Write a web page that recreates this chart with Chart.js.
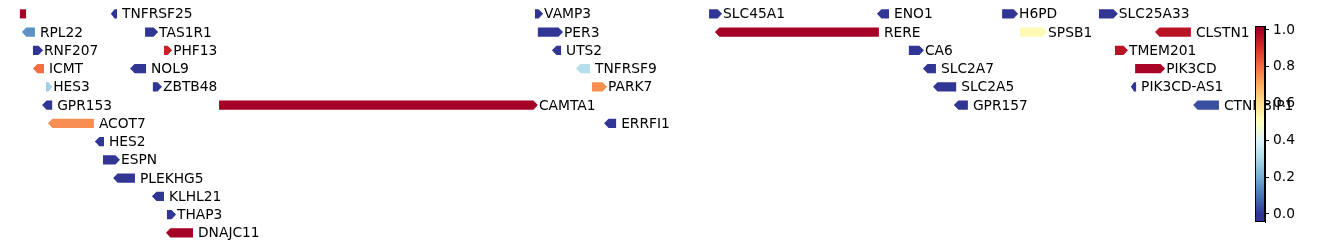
<!DOCTYPE html>
<html>
<head>
<meta charset="utf-8">
<script src="https://cdn.jsdelivr.net/npm/chart.js@4"></script>
<style>
  html, body { margin: 0; padding: 0; background: #fff; }
  #wrap { position: relative; width: 1338px; height: 246px; }
  #genes { position: absolute; left: 0; top: 0; }
  #cbar { position: absolute; left: 1230px; top: 0; }
</style>
</head>
<body>
<div id="wrap">
  <canvas id="genes" width="1338" height="246"></canvas>
  <canvas id="cbar" width="108" height="246"></canvas>
</div>
<script>
// gene track data (positions in Mb)
const geneNames = ['', 'TNFRSF25', 'VAMP3', 'SLC45A1', 'ENO1', 'H6PD', 'SLC25A33',
  'RPL22', 'TAS1R1', 'PER3', 'RERE', 'SPSB1', 'CLSTN1',
  'RNF207', 'PHF13', 'UTS2', 'CA6', 'TMEM201',
  'ICMT', 'NOL9', 'TNFRSF9', 'SLC2A7', 'PIK3CD',
  'HES3', 'ZBTB48', 'PARK7', 'SLC2A5', 'PIK3CD-AS1',
  'GPR153', 'CAMTA1', 'GPR157', 'CTNNBIP1',
  'ACOT7', 'ERRFI1', 'HES2', 'ESPN', 'PLEKHG5', 'KLHL21', 'THAP3', 'DNAJC11'];
const geneStart = [6.174, 6.453, 7.754, 8.288, 8.803, 9.187, 9.484,
  6.180, 6.558, 7.763, 8.306, 9.242, 9.656,
  6.214, 6.616, 7.806, 8.901, 9.533,
  6.214, 6.512, 7.880, 8.944, 9.595,
  6.254, 6.582, 7.929, 8.975, 9.582,
  6.242, 6.785, 9.039, 9.773,
  6.260, 7.966, 6.404, 6.429, 6.460, 6.579, 6.625, 6.622];
const geneEnd = [6.193, 6.472, 7.779, 8.328, 8.840, 9.236, 9.542,
  6.220, 6.598, 7.840, 8.809, 9.325, 9.766,
  6.245, 6.641, 7.834, 8.947, 9.573,
  6.248, 6.561, 7.923, 8.984, 9.687,
  6.273, 6.610, 7.975, 9.046, 9.598,
  6.273, 7.763, 9.082, 9.852,
  6.401, 8.003, 6.432, 6.481, 6.527, 6.616, 6.653, 6.705];
const geneStrand = ['.', '-', '+', '+', '-', '+', '+',
  '-', '+', '+', '-', '+', '-',
  '+', '+', '-', '+', '+',
  '-', '-', '-', '-', '+',
  '+', '+', '+', '-', '-',
  '-', '+', '-', '-',
  '-', '-', '-', '+', '-', '-', '+', '-'];
const geneRow = [0, 0, 0, 0, 0, 0, 0,
  1, 1, 1, 1, 1, 1,
  2, 2, 2, 2, 2,
  3, 3, 3, 3, 3,
  4, 4, 4, 4, 4,
  5, 5, 5, 5,
  6, 6, 7, 8, 9, 10, 11, 12];
const geneValue = [1.0, 0.0, 0.0, 0.0, 0.0, 0.0, 0.0,
  0.15, 0.0, 0.0, 1.0, 0.52, 0.96,
  0.0, 0.93, 0.0, 0.0, 0.96,
  0.8, 0.0, 0.32, 0.0, 0.99,
  0.28, 0.0, 0.75, 0.0, 0.0,
  0.0, 1.0, 0.0, 0.04,
  0.75, 0.0, 0.0, 0.0, 0.0, 0.0, 0.0, 1.0];

// colorbar ticks
const cbTicks = [0.0, 0.2, 0.4, 0.6, 0.8, 1.0];

// RdYlBu reversed
const cmap = ['#313695', '#4575b4', '#74add1', '#abd9e9', '#e0f3f8', '#ffffbf',
  '#fee090', '#fdae61', '#f46d43', '#d73027', '#a50026'];

function hexToRgb(h) {
  return [parseInt(h.slice(1, 3), 16), parseInt(h.slice(3, 5), 16), parseInt(h.slice(5, 7), 16)];
}
function colorAt(v) {
  v = Math.max(0, Math.min(1, v));
  const p = v * (cmap.length - 1);
  const i = Math.min(Math.floor(p), cmap.length - 2);
  const f = p - i;
  const a = hexToRgb(cmap[i]), b = hexToRgb(cmap[i + 1]);
  const c = a.map((x, k) => Math.round(x + (b[k] - x) * f));
  return 'rgb(' + c.join(',') + ')';
}

const labelFont = '13.8px "DejaVu Sans"';

// draws the gene arrows and their names
const geneTrack = {
  id: 'geneTrack',
  afterDatasetsDraw(chart) {
    const ctx = chart.ctx;
    const xs = chart.scales.x, ys = chart.scales.y;
    ctx.save();
    ctx.font = labelFont;
    ctx.textBaseline = 'middle';
    ctx.textAlign = 'left';
    for (let i = 0; i < geneNames.length; i++) {
      const x0 = xs.getPixelForValue(geneStart[i]);
      const x1 = xs.getPixelForValue(geneEnd[i]);
      const yc = ys.getPixelForValue(geneRow[i]);
      const h = Math.abs(ys.getPixelForValue(geneRow[i] + 0.25) - yc);
      const head = Math.min(4.5, (x1 - x0) * 0.6);
      ctx.fillStyle = colorAt(geneValue[i]);
      ctx.beginPath();
      if (geneStrand[i] === '+') {
        ctx.moveTo(x0, yc - h);
        ctx.lineTo(x1 - head, yc - h);
        ctx.lineTo(x1, yc);
        ctx.lineTo(x1 - head, yc + h);
        ctx.lineTo(x0, yc + h);
      } else if (geneStrand[i] === '-') {
        ctx.moveTo(x1, yc - h);
        ctx.lineTo(x0 + head, yc - h);
        ctx.lineTo(x0, yc);
        ctx.lineTo(x0 + head, yc + h);
        ctx.lineTo(x1, yc + h);
      } else {
        ctx.rect(x0, yc - h, x1 - x0, 2 * h);
      }
      ctx.closePath();
      ctx.fill();
      if (geneNames[i]) {
        ctx.fillStyle = '#000';
        ctx.fillText(geneNames[i], x1 + (geneStrand[i] === '+' ? 1 : 5), yc + 1);
      }
    }
    ctx.restore();
  }
};

new Chart(document.getElementById('genes'), {
  type: 'scatter',
  data: {
    datasets: [{
      data: geneNames.map((n, i) => ({ x: (geneStart[i] + geneEnd[i]) / 2, y: geneRow[i] })),
      pointRadius: 0
    }]
  },
  options: {
    responsive: false,
    animation: false,
    layout: { padding: { left: 0, right: 93, top: 0, bottom: 0 } },
    plugins: { legend: { display: false }, tooltip: { enabled: false } },
    scales: {
      x: { type: 'linear', display: false, min: 6.113, max: 9.932 },
      y: { type: 'linear', display: false, min: -0.76, max: 12.72, reverse: true }
    }
  },
  plugins: [geneTrack]
});

// colorbar gradient
const cbFill = {
  id: 'cbFill',
  beforeDatasetsDraw(chart) {
    const ctx = chart.ctx;
    const a = chart.chartArea;
    const ys = chart.scales.y;
    const g = ctx.createLinearGradient(0, a.bottom, 0, a.top);
    const lo = ys.min, hi = ys.max;
    g.addColorStop(0, colorAt(0));
    for (let k = 0; k < cmap.length; k++) {
      const v = k / (cmap.length - 1);
      g.addColorStop((v - lo) / (hi - lo), cmap[k]);
    }
    g.addColorStop(1, colorAt(1));
    ctx.save();
    ctx.fillStyle = g;
    ctx.fillRect(a.left, a.top, a.right - a.left, a.bottom - a.top);
    ctx.strokeStyle = '#000';
    ctx.lineWidth = 1;
    ctx.strokeRect(a.left + 0.5, a.top + 0.5, a.right - a.left - 1, a.bottom - a.top - 1);
    ctx.restore();
  }
};

new Chart(document.getElementById('cbar'), {
  type: 'scatter',
  data: { datasets: [] },
  options: {
    responsive: false,
    animation: false,
    layout: { padding: { left: 25, right: 0, top: 26, bottom: 24 } },
    plugins: { legend: { display: false }, tooltip: { enabled: false } },
    scales: {
      x: { display: false },
      y: {
        type: 'linear',
        position: 'right',
        min: -0.0435,
        max: 1.0217,
        afterBuildTicks: (s) => { s.ticks = cbTicks.map(v => ({ value: v })); },
        afterFit: (s) => { s.width = 73; },
        grid: { drawOnChartArea: false, drawTicks: true, tickLength: 4, color: '#000' },
        border: { display: true, color: '#000' },
        ticks: {
          padding: 4,
          color: '#000',
          font: { family: 'DejaVu Sans', size: 13.8 },
          callback: (v) => Number(v).toFixed(1)
        }
      }
    }
  },
  plugins: [cbFill]
});
</script>
</body>
</html>
